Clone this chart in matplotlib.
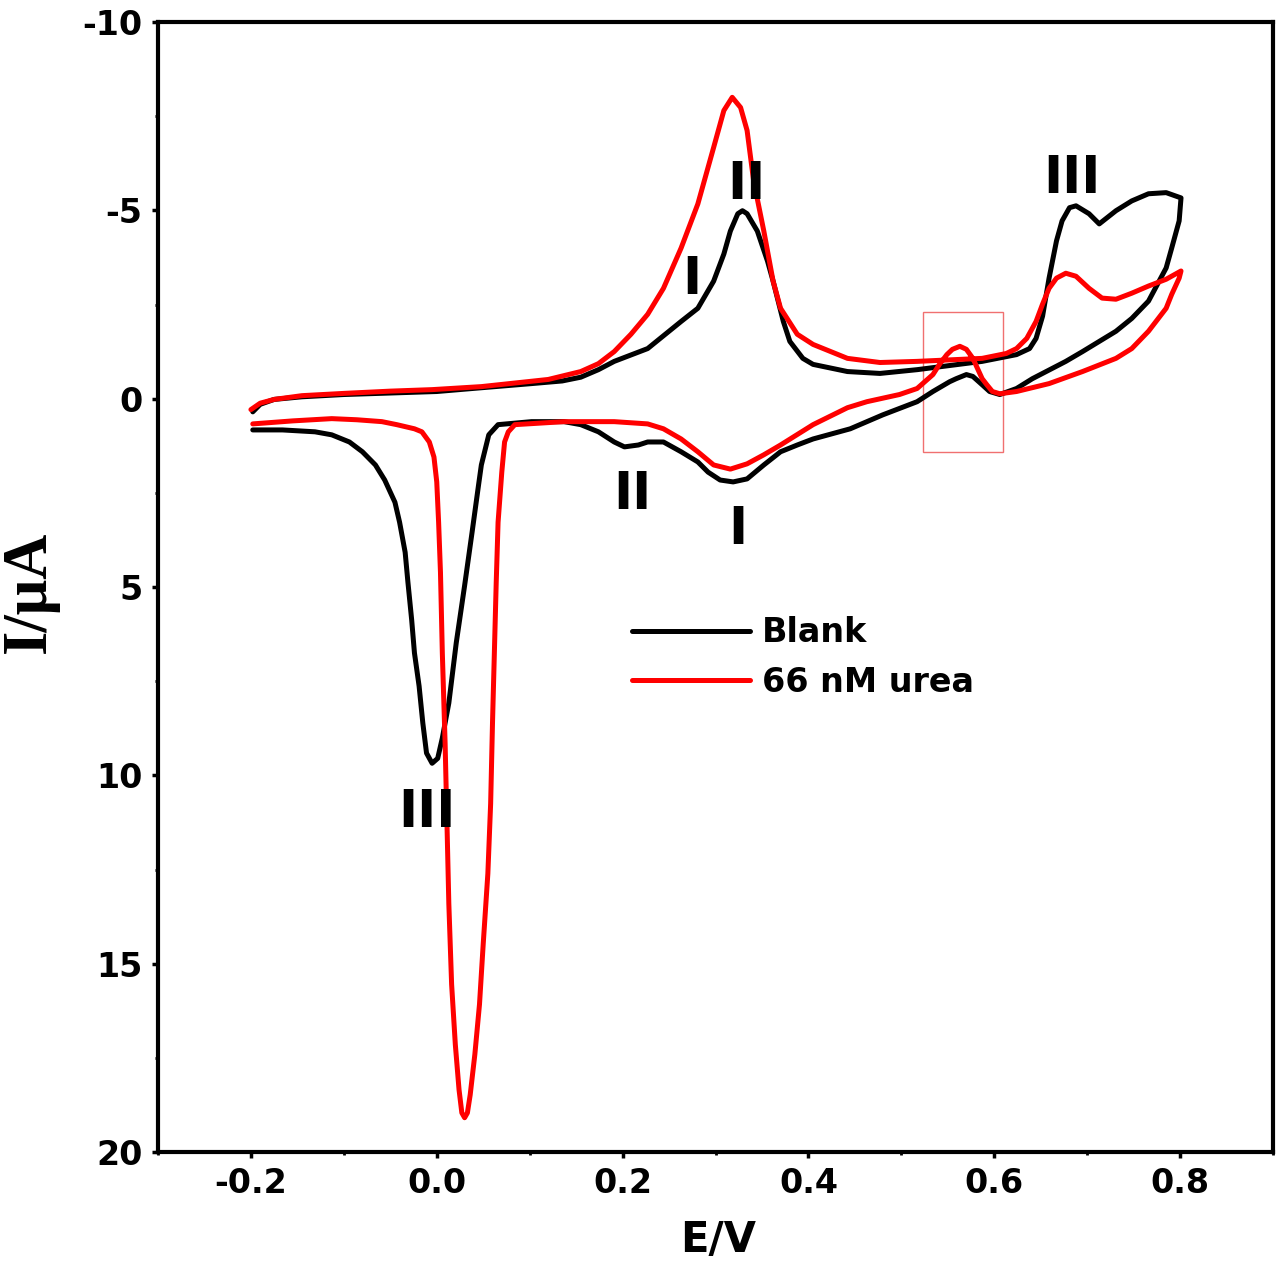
import matplotlib
matplotlib.use("Agg")
from matplotlib import pyplot as plt
from matplotlib.patches import Rectangle
from matplotlib.ticker import MultipleLocator

# Blank, forward scan (-0.2 -> 0.8 V)
blank_fwd_E = [-0.198, -0.190, -0.175, -0.145, -0.100, -0.050, 0.000, 0.048, 0.102, 0.135,
               0.155, 0.174, 0.191, 0.227, 0.263, 0.281, 0.298, 0.309, 0.316, 0.324,
               0.329, 0.334, 0.345, 0.356, 0.362, 0.373, 0.380, 0.394, 0.405, 0.442,
               0.477, 0.517, 0.587, 0.624, 0.638, 0.645, 0.652, 0.659, 0.667, 0.673,
               0.681, 0.688, 0.702, 0.713, 0.731, 0.748, 0.766, 0.785, 0.801]
blank_fwd_I = [0.35, 0.15, 0.02, -0.05, -0.11, -0.15, -0.19, -0.29, -0.40, -0.47,
               -0.57, -0.77, -0.99, -1.33, -2.05, -2.40, -3.12, -3.84, -4.45, -4.91,
               -4.99, -4.91, -4.45, -3.65, -3.12, -2.05, -1.52, -1.07, -0.91, -0.72,
               -0.67, -0.77, -0.99, -1.17, -1.33, -1.60, -2.19, -3.20, -4.19, -4.72,
               -5.07, -5.12, -4.91, -4.64, -4.99, -5.25, -5.44, -5.47, -5.33]
# Blank, reverse scan (0.8 -> -0.2 V)
blank_rev_E = [0.799, 0.791, 0.785, 0.766, 0.748, 0.731, 0.695, 0.677, 0.641, 0.624,
               0.606, 0.595, 0.587, 0.577, 0.570, 0.559, 0.552, 0.534, 0.517, 0.480,
               0.445, 0.405, 0.388, 0.370, 0.352, 0.334, 0.319, 0.305, 0.292, 0.281,
               0.263, 0.244, 0.227, 0.217, 0.202, 0.191, 0.174, 0.155, 0.137, 0.102,
               0.066, 0.056, 0.048, 0.045, 0.038, 0.030, 0.021, 0.013, 0.006, 0.001,
               -0.005, -0.011, -0.015, -0.019, -0.024, -0.027, -0.031, -0.034, -0.040, -0.045,
               -0.056, -0.066, -0.080, -0.094, -0.113, -0.131, -0.166, -0.198]
blank_rev_I = [-4.72, -4.00, -3.47, -2.59, -2.13, -1.79, -1.25, -0.99, -0.53, -0.27,
               -0.11, -0.19, -0.37, -0.59, -0.64, -0.53, -0.45, -0.19, 0.08, 0.43,
               0.80, 1.07, 1.23, 1.41, 1.76, 2.13, 2.21, 2.16, 1.95, 1.68,
               1.41, 1.15, 1.15, 1.23, 1.28, 1.15, 0.88, 0.69, 0.61, 0.61,
               0.69, 0.96, 1.76, 2.29, 3.55, 4.96, 6.48, 8.08, 9.01, 9.55,
               9.68, 9.41, 8.61, 7.63, 6.75, 5.87, 4.88, 4.08, 3.28, 2.75,
               2.16, 1.76, 1.41, 1.15, 0.96, 0.88, 0.83, 0.83]

# 66 nM urea, forward scan
urea_fwd_E = [-0.200, -0.190, -0.175, -0.145, -0.100, -0.050, -0.005, 0.048, 0.120, 0.155,
              0.174, 0.191, 0.209, 0.227, 0.244, 0.263, 0.281, 0.298, 0.309, 0.318,
              0.327, 0.334, 0.341, 0.352, 0.362, 0.370, 0.388, 0.405, 0.442, 0.477,
              0.517, 0.587, 0.613, 0.624, 0.635, 0.645, 0.652, 0.659, 0.667, 0.677,
              0.688, 0.702, 0.716, 0.731, 0.748, 0.766, 0.785, 0.801]
urea_fwd_I = [0.29, 0.12, 0.02, -0.08, -0.14, -0.20, -0.24, -0.32, -0.51, -0.72,
              -0.93, -1.25, -1.71, -2.24, -2.93, -4.00, -5.17, -6.67, -7.65, -8.00,
              -7.73, -7.12, -5.79, -4.45, -3.12, -2.40, -1.71, -1.44, -1.07, -0.96,
              -0.99, -1.07, -1.20, -1.33, -1.60, -2.05, -2.51, -2.93, -3.20, -3.33,
              -3.25, -2.93, -2.67, -2.64, -2.80, -2.99, -3.17, -3.39]
# 66 nM urea, reverse scan
urea_rev_E = [0.799, 0.791, 0.785, 0.766, 0.748, 0.731, 0.695, 0.659, 0.624, 0.606,
              0.598, 0.592, 0.587, 0.582, 0.577, 0.570, 0.563, 0.555, 0.549, 0.541,
              0.534, 0.517, 0.498, 0.463, 0.442, 0.405, 0.370, 0.352, 0.334, 0.316,
              0.298, 0.281, 0.263, 0.244, 0.227, 0.191, 0.137, 0.084, 0.077, 0.073,
              0.070, 0.066, 0.064, 0.062, 0.060, 0.058, 0.055, 0.050, 0.046, 0.041,
              0.036, 0.033, 0.030, 0.027, 0.024, 0.020, 0.016, 0.013, 0.011, 0.009,
              0.006, 0.004, 0.002, 0.000, -0.003, -0.008, -0.016, -0.024, -0.043, -0.059,
              -0.086, -0.113, -0.155, -0.198]
urea_rev_I = [-3.20, -2.77, -2.40, -1.79, -1.33, -1.07, -0.72, -0.40, -0.19, -0.13,
              -0.19, -0.37, -0.53, -0.80, -1.07, -1.31, -1.39, -1.31, -1.17, -0.91,
              -0.64, -0.27, -0.11, 0.08, 0.24, 0.69, 1.23, 1.49, 1.73, 1.87,
              1.76, 1.41, 1.07, 0.80, 0.67, 0.61, 0.61, 0.69, 0.88, 1.15,
              1.95, 3.28, 4.88, 6.75, 8.61, 10.75, 12.61, 14.48, 16.08, 17.41,
              18.48, 18.96, 19.09, 18.96, 18.35, 17.15, 15.55, 13.41, 11.28, 9.15,
              6.75, 4.61, 3.28, 2.21, 1.55, 1.15, 0.88, 0.80, 0.69, 0.61,
              0.56, 0.53, 0.59, 0.67]

# peak labels: text, E, I (baseline)
peak_labels = ["III", "II", "I", "II", "I", "III"]
peak_E = [0.684, 0.333, 0.275, 0.210, 0.324, -0.011]
peak_I = [-5.47, -5.31, -2.77, 2.93, 3.87, 11.36]

# highlighted region
box_E = (0.523, 0.609)
box_I = (-2.29, 1.41)

bold = dict(family="DejaVu Sans", weight="bold")

fig = plt.figure(figsize=(12.8, 12.69), dpi=100)
ax = fig.add_axes([158 / 1280, 1 - 1152 / 1269, 1115 / 1280, 1130 / 1269])

ax.plot(blank_fwd_E + blank_rev_E, blank_fwd_I + blank_rev_I, color="black", lw=3.6,
        solid_joinstyle="round", solid_capstyle="round", label="Blank")
ax.plot(urea_fwd_E + urea_rev_E, urea_fwd_I + urea_rev_I, color="#ff0000", lw=3.6,
        solid_joinstyle="round", solid_capstyle="round", label="66 nM urea")

for txt, e, i in zip(peak_labels, peak_E, peak_I):
    ax.text(e, i, txt, ha="center", va="baseline", fontsize=37, **bold)

ax.add_patch(Rectangle((box_E[0], box_I[0]), box_E[1] - box_E[0], box_I[1] - box_I[0],
                       fill=False, edgecolor="#f07070", lw=1.0))

ax.set_xlim(-0.3, 0.9)
ax.set_ylim(20, -10)
ax.xaxis.set_minor_locator(MultipleLocator(0.1))
ax.yaxis.set_minor_locator(MultipleLocator(2.5))
ax.set_xticks([-0.2, 0.0, 0.2, 0.4, 0.6, 0.8])
ax.set_xticklabels(["-0.2", "0.0", "0.2", "0.4", "0.6", "0.8"])
ax.set_yticks([-10, -5, 0, 5, 10, 15, 20])
ax.set_yticklabels(["-10", "-5", "0", "5", "10", "15", "20"])

for s in ax.spines.values():
    s.set_linewidth(3.0)
ax.tick_params(which="major", direction="out", length=4, width=2.5, pad=7)
ax.tick_params(which="minor", direction="out", length=2.5, width=2)
for lab in ax.get_xticklabels() + ax.get_yticklabels():
    lab.set_fontsize(24)
    lab.set_fontfamily("DejaVu Sans")
    lab.set_fontweight("bold")

ax.legend(loc="center left", bbox_to_anchor=(0.425, 0.4376), frameon=False,
          handlelength=3.55, handletextpad=0.36, labelspacing=0.5,
          borderpad=0, borderaxespad=0, prop=dict(size=24, **bold))

fig.text(718 / 1280, 1 - 1240 / 1269, "E/V", ha="center", va="center", fontsize=30, **bold)
fig.text(30 / 1280, 1 - 592 / 1269, "I/\u03bcA", ha="center", va="center", rotation=90,
         fontsize=45, family="Liberation Serif", weight="bold")

fig.savefig("out.png", dpi=100)
